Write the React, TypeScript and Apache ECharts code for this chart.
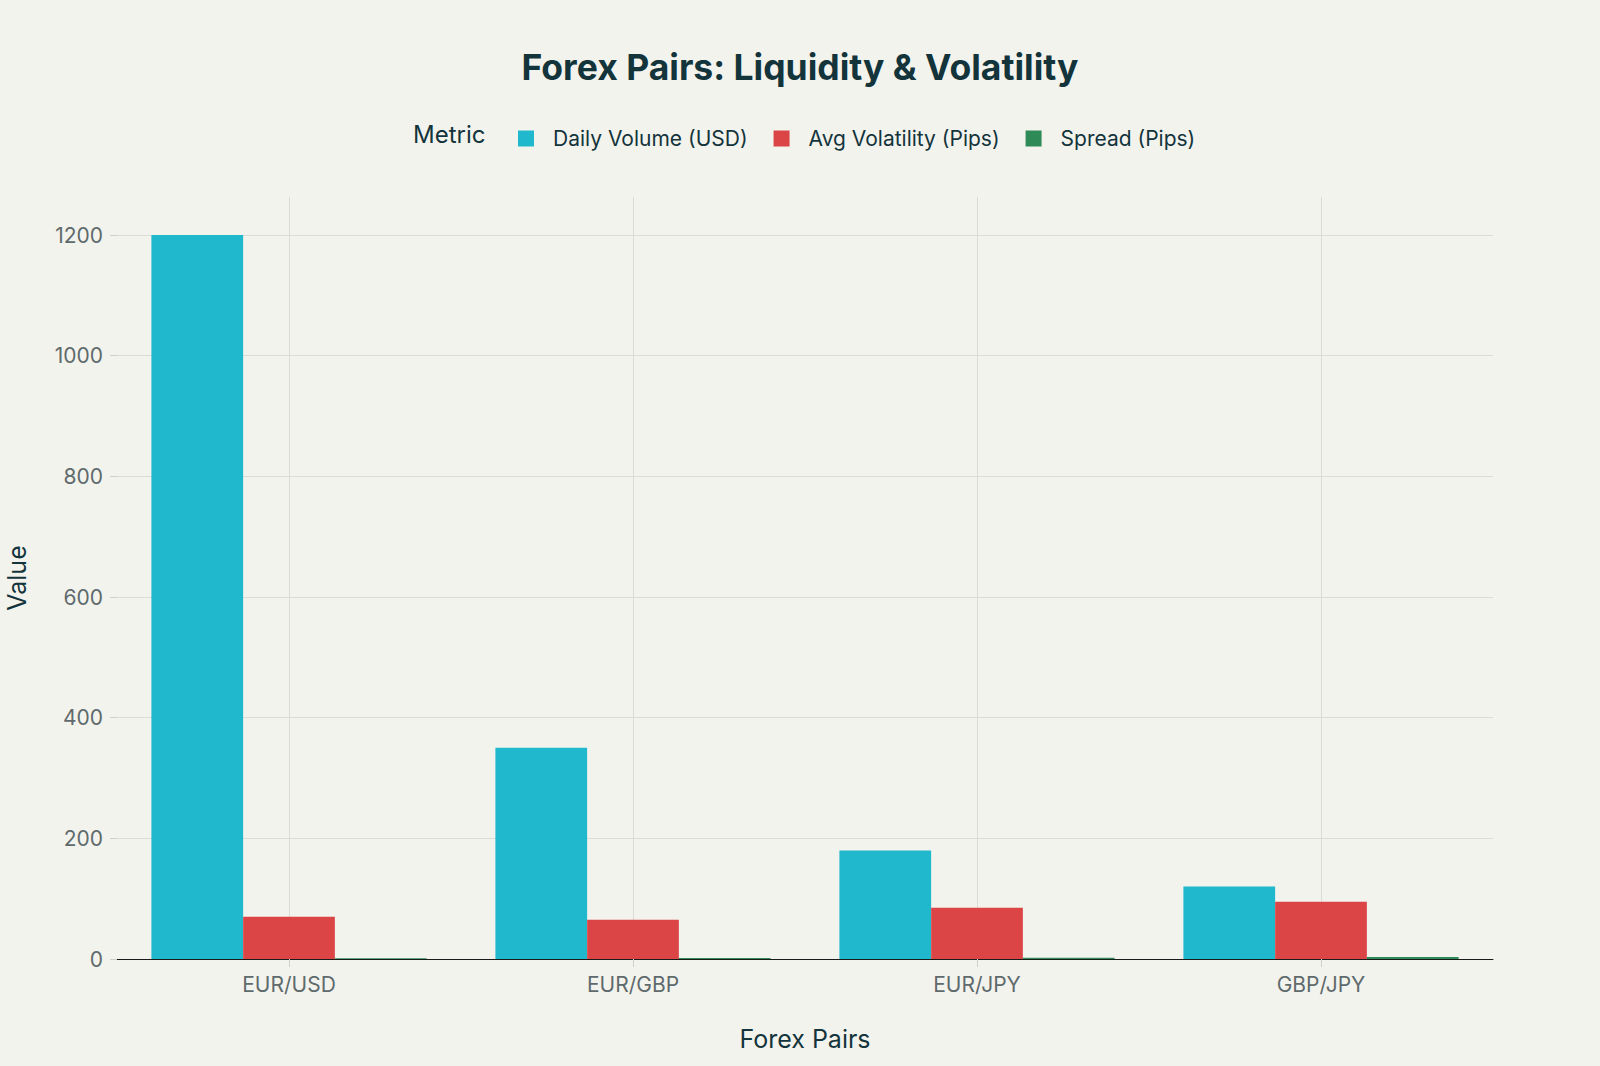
import React, { useEffect, useRef } from "react";
import * as echarts from "echarts";

const categories = ["EUR/USD", "EUR/GBP", "EUR/JPY", "GBP/JPY"];
const seriesNames = ["Daily Volume (USD)", "Avg Volatility (Pips)", "Spread (Pips)"];
const dailyVolume = [1200, 350, 180, 120];
const avgVolatility = [70, 65, 85, 95];
const spread = [1.2, 1.8, 2.2, 3.2];
const yTicks = [0, 200, 400, 600, 800, 1000, 1200];
const colors = ["#1FB8CD", "#DB4545", "#2E8B57"];

const FONT = "Inter, 'Noto Sans', sans-serif";
const DARK = "#13343B";

export default function App() {
  const ref = useRef<HTMLDivElement>(null);
  useEffect(() => {
    document.body.style.margin = "0";
    const chart = echarts.init(ref.current!, null, { renderer: "svg" });
    const gridColor = "#DCDCD6";
    const splitColors = yTicks.map(() => gridColor).concat(["rgba(0,0,0,0)"]);
    chart.setOption({
      animation: false,
      backgroundColor: "#F3F3EE",
      textStyle: { fontFamily: FONT },
      title: {
        text: "Forex Pairs: Liquidity & Volatility",
        left: "center",
        top: 44,
        textStyle: { fontSize: 35.5, fontWeight: 700, color: DARK, fontFamily: FONT },
      },
      graphic: [
        {
          type: "text",
          left: 413,
          top: 122,
          style: { text: "Metric", fontSize: 24, fill: DARK, fontFamily: FONT },
        },
      ],
      legend: {
        left: 513,
        top: 123,
        icon: "rect",
        itemWidth: 16,
        itemHeight: 16,
        itemGap: 26,
        data: seriesNames,
        textStyle: { fontSize: 21, color: DARK, fontFamily: FONT, padding: [0, 0, 0, 14] },
      },
      grid: { left: 117, right: 107, top: 197, bottom: 107, containLabel: false, outerBoundsMode: "none" },
      xAxis: {
        type: "category",
        data: categories,
        z: 0,
        name: "Forex Pairs",
        nameLocation: "middle",
        nameGap: 67,
        nameTextStyle: { fontSize: 25, color: DARK, fontFamily: FONT },
        axisLine: { show: true, lineStyle: { color: "#1a1a1a", width: 1 } },
        axisTick: { show: true, alignWithLabel: true, length: 8, lineStyle: { color: "#CFCFC9" } },
        axisLabel: { fontSize: 21, color: "#5F6A6C", margin: 15 },
        splitLine: { show: true, alignWithLabel: true, lineStyle: { color: gridColor } },
      },
      yAxis: {
        type: "value",
        min: 0,
        max: 1263,
        interval: 200,
        z: 0,
        name: "Value",
        nameLocation: "middle",
        nameGap: 88,
        nameTextStyle: { fontSize: 25, color: DARK, fontFamily: FONT },
        axisLine: { show: false },
        axisTick: { show: true, length: 7, lineStyle: { color: "#CFCFC9" } },
        axisLabel: {
          fontSize: 21,
          color: "#5F6A6C",
          margin: 14,
          showMaxLabel: false,
          formatter: (v: number) => (yTicks.includes(v) ? String(v) : ""),
        },
        splitLine: { show: true, lineStyle: { color: splitColors } },
      },
      series: [
        { name: seriesNames[0], type: "bar", z: 5, data: dailyVolume, itemStyle: { color: colors[0] }, barGap: "0%", barCategoryGap: "20%" },
        { name: seriesNames[1], type: "bar", z: 5, data: avgVolatility, itemStyle: { color: colors[1] }, barGap: "0%", barCategoryGap: "20%" },
        { name: seriesNames[2], type: "bar", z: 5, data: spread, itemStyle: { color: colors[2] }, barGap: "0%", barCategoryGap: "20%" },
      ],
    });
    return () => chart.dispose();
  }, []);
  return <div ref={ref} style={{ width: 1600, height: 1066 }} />;
}
